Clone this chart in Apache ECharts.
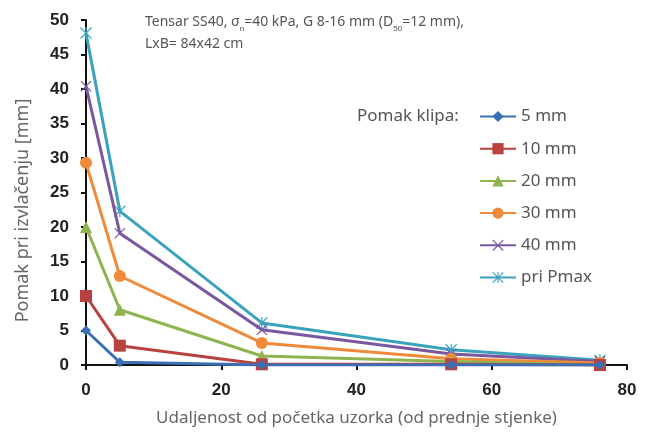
<!DOCTYPE html>
<html>
<head>
<meta charset="utf-8">
<script src="https://cdn.jsdelivr.net/npm/echarts@6/dist/echarts.min.js"></script>
<style>
    html, body { margin: 0; padding: 0; background: #fff; }
    #chart { width: 646px; height: 432px; }
</style>
</head>
<body>
<div id="chart"></div>
<script>
    // udaljenost od pocetka uzorka (cm)
    const distances = [0, 5, 26, 54, 76];
    const seriesNames = ['5 mm', '10 mm', '20 mm', '30 mm', '40 mm', 'pri Pmax'];
    const pomak5 = [5, 0.4, 0, 0, 0];
    const pomak10 = [10, 2.8, 0.1, 0.1, 0];
    const pomak20 = [20, 8, 1.3, 0.5, 0];
    const pomak30 = [29.3, 12.9, 3.2, 0.9, 0.3];
    const pomak40 = [40.4, 19.1, 5.1, 1.6, 0.5];
    const pomakPmax = [48.1, 22.3, 6.1, 2.2, 0.7];
    const yTicks = [0, 5, 10, 15, 20, 25, 30, 35, 40, 45, 50];
    const xTicks = [0, 20, 40, 60, 80];

    const allValues = [pomak5, pomak10, pomak20, pomak30, pomak40, pomakPmax];
    const colors = ['#3b6fb5', '#b8423f', '#8fb44f', '#ee8a3a', '#7a58a0', '#3aa2bd'];
    const crossPath = 'path://M0,1.5L1.5,0L10,8.5L18.5,0L20,1.5L11.5,10L20,18.5L18.5,20L10,11.5L1.5,20L0,18.5L8.5,10Z';
    const starPath = 'path://M0,1.5L1.5,0L10,8.5L18.5,0L20,1.5L11.5,10L20,18.5L18.5,20L10,11.5L1.5,20L0,18.5L8.5,10Z M9,0L11,0L11,20L9,20Z';
    const symbols = ['diamond', 'rect', 'triangle', 'circle', crossPath, starPath];
    const sizes = [10, 12, 12, 12, 11, 12];

    const chart = echarts.init(document.getElementById('chart'));

    let series = seriesNames.map((name, i) => ({
        name: name,
        type: 'line',
        data: distances.map((d, j) => [d, allValues[i][j]]),
        symbol: symbols[i],
        symbolSize: sizes[i],
        lineStyle: { width: 3, color: colors[i] },
        itemStyle: { color: colors[i] },
        z: 2 + (5 - i)
    }));

    chart.setOption({
        animation: false,
        color: colors,
        textStyle: { fontFamily: 'Noto Sans' },
        grid: { left: 86, right: 19, top: 20, bottom: 67 },
        graphic: [{
            type: 'text',
            left: 145,
            top: 11,
            style: {
                text: 'Tensar SS40, σ{sub|n}=40 kPa, G 8-16 mm (D{sub|50}=12 mm),\nLxB= 84x42 cm',
                font: '14px "Noto Sans"',
                fill: '#555',
                lineHeight: 22,
                rich: {
                    sub: { fontSize: 8, fill: '#555', verticalAlign: 'bottom', padding: [7, 0, 0, 0] }
                }
            }
        }, {
            type: 'text',
            left: 357,
            top: 108,
            style: { text: 'Pomak klipa:', font: '17px "Noto Sans"', fill: '#555' }
        }],
        legend: {
            orient: 'vertical',
            left: 474,
            top: 103,
            itemWidth: 36,
            itemHeight: 14,
            itemGap: 15.2,
            textStyle: { fontSize: 17, color: '#555', fontFamily: 'Noto Sans' },
            data: seriesNames
        },
        xAxis: {
            type: 'value',
            min: 0,
            max: 80,
            interval: 20,
            name: 'Udaljenost od početka uzorka (od prednje stjenke)',
            nameLocation: 'middle',
            nameGap: 45,
            nameTextStyle: { fontSize: 17, color: '#666', fontFamily: 'Noto Sans' },
            axisLine: { lineStyle: { color: '#111', width: 2 } },
            axisTick: { length: 5, lineStyle: { color: '#111', width: 2 } },
            axisLabel: { fontSize: 17, fontWeight: 'bold', color: '#222', fontFamily: 'Liberation Sans', margin: 17 },
            splitLine: { show: false }
        },
        yAxis: {
            type: 'value',
            min: 0,
            max: 50,
            interval: 5,
            name: 'Pomak pri izvlačenju [mm]',
            nameLocation: 'middle',
            nameGap: 54,
            nameTextStyle: { fontSize: 18, color: '#666', fontFamily: 'Noto Sans', padding: [0, 36, 0, 0] },
            axisLine: { show: true, lineStyle: { color: '#111', width: 2 } },
            axisTick: { show: true, length: 5, lineStyle: { color: '#111', width: 2 } },
            axisLabel: { fontSize: 17, fontWeight: 'bold', color: '#222', fontFamily: 'Liberation Sans', margin: 17 },
            splitLine: { show: false }
        },
        series: series
    });
</script>
</body>
</html>
